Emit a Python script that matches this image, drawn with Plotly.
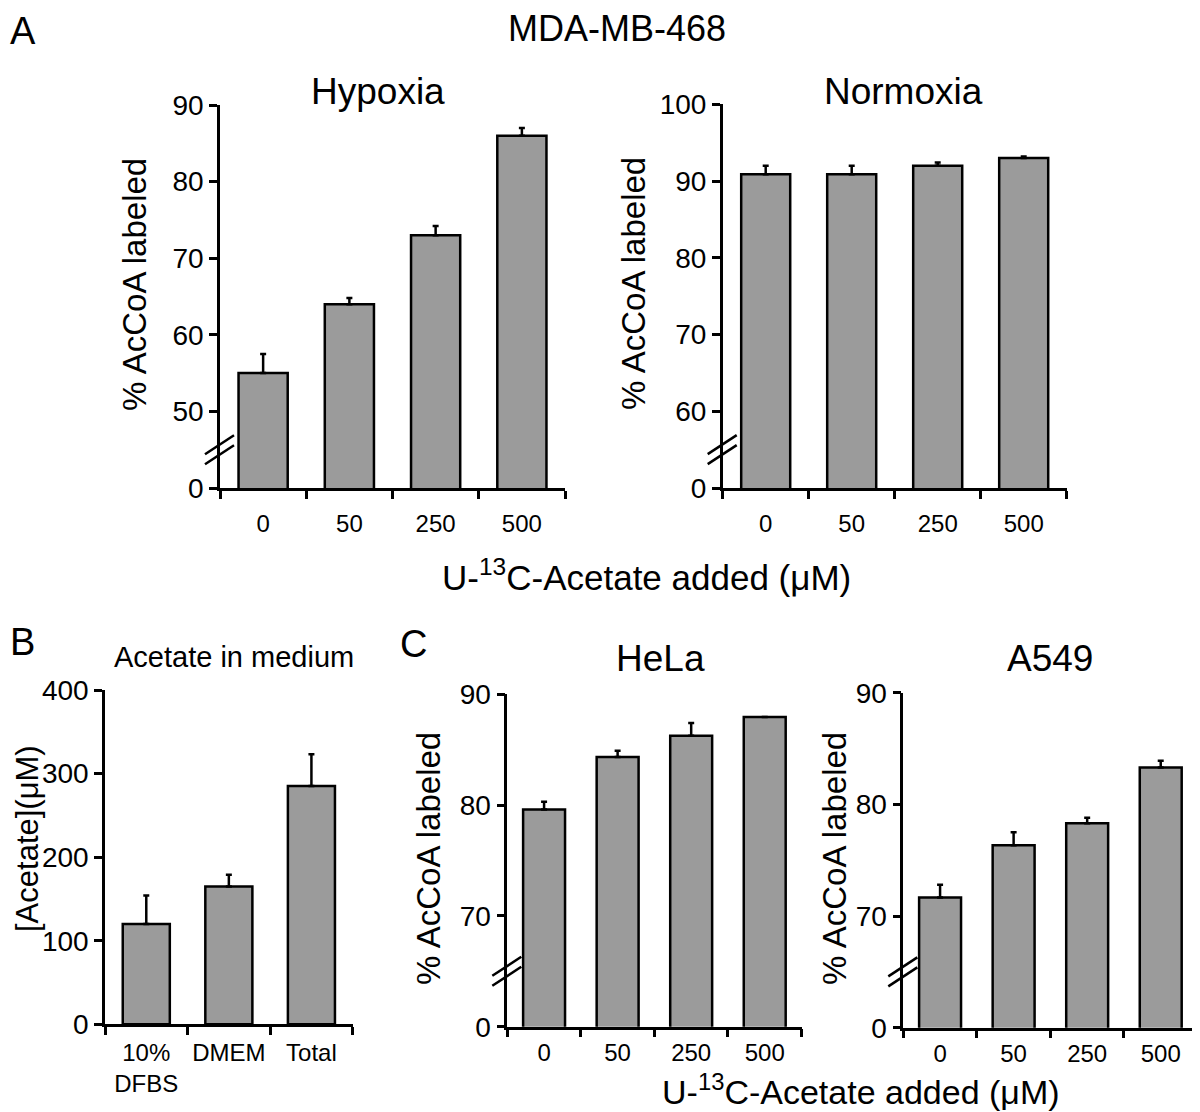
import plotly.graph_objects as go

# ---------------- data ----------------
doses = ["0", "50", "250", "500"]
hypoxia_vals = [55.0, 64.0, 73.0, 86.0]
hypoxia_err = [2.5, 0.8, 1.2, 1.0]
normoxia_vals = [90.9, 90.9, 92.0, 93.0]
normoxia_err = [1.1, 1.1, 0.4, 0.2]
medium_cats = ["10%<br>DFBS", "DMEM", "Total"]
medium_vals = [120.0, 165.0, 285.0]
medium_err = [34.0, 14.0, 38.0]
hela_vals = [79.6, 84.35, 86.25, 87.95]
hela_err = [0.7, 0.55, 1.15, 0.0]
a549_vals = [71.65, 76.35, 78.3, 83.3]
a549_err = [1.15, 1.15, 0.5, 0.6]

hyp_ticks = [40, 50, 60, 70, 80, 90]
hyp_ticktext = ["0", "50", "60", "70", "80", "90"]
nor_ticks = [50, 60, 70, 80, 90, 100]
nor_ticktext = ["0", "60", "70", "80", "90", "100"]
med_ticks = [0, 100, 200, 300, 400]
med_ticktext = ["0", "100", "200", "300", "400"]
c_ticks = [60, 70, 80, 90]
c_ticktext = ["0", "70", "80", "90"]

W, H = 1200, 1112
OFF = 8  # page body margin in the browser
FONT = "Liberation Sans, Arial, Helvetica, sans-serif"
BAR = "#9b9b9b"


def px(x):
    return (x - OFF) / W


def py(y):
    return 1 - (y - OFF) / H


# panel layout in page pixels: (left, right, bottom, top)
panels = [
    dict(cats=doses, vals=hypoxia_vals, err=hypoxia_err, ticks=hyp_ticks, ttext=hyp_ticktext,
         rng=[40, 90], box=(220, 565, 488, 105), broken=True, stand=12),
    dict(cats=doses, vals=normoxia_vals, err=normoxia_err, ticks=nor_ticks, ttext=nor_ticktext,
         rng=[50, 100], box=(722.7, 1066.7, 488, 104.3), broken=True, stand=12),
    dict(cats=medium_cats, vals=medium_vals, err=medium_err, ticks=med_ticks, ttext=med_ticktext,
         rng=[0, 400], box=(105, 352.7, 1024.3, 690), broken=False, stand=5),
    dict(cats=doses, vals=hela_vals, err=hela_err, ticks=c_ticks, ttext=c_ticktext,
         rng=[60, 90], box=(507.3, 801.5, 1026.7, 694.3), broken=True, stand=3),
    dict(cats=doses, vals=a549_vals, err=a549_err, ticks=c_ticks, ttext=c_ticktext,
         rng=[60, 90], box=(903.3, 1197.5, 1027.7, 692.7), broken=True, stand=3),
]

fig = go.Figure()
shapes = []
layout = {}
for i, p in enumerate(panels, start=1):
    xa = "x" if i == 1 else f"x{i}"
    ya = "y" if i == 1 else f"y{i}"
    fig.add_trace(go.Bar(
        x=p["cats"], y=p["vals"], xaxis=xa, yaxis=ya,
        marker=dict(color=BAR, line=dict(color="black", width=2.5)),
        error_y=dict(type="data", symmetric=False, array=p["err"],
                     arrayminus=[0] * len(p["err"]), color="black",
                     thickness=2.5, width=3),
        showlegend=False, hoverinfo="x+y",
    ))
    l, r, b, t = p["box"]
    n = len(p["cats"])
    xkey = "xaxis" if i == 1 else f"xaxis{i}"
    ykey = "yaxis" if i == 1 else f"yaxis{i}"
    layout[xkey] = dict(
        domain=[px(l), px(r)], anchor=ya, type="category", range=[-0.5, n - 0.5],
        tickson="boundaries", ticks="outside", ticklen=8, tickwidth=2.5, tickcolor="black",
        showline=True, linewidth=2.5, linecolor="black", showgrid=False, zeroline=False,
        tickfont=dict(size=24, color="black", family=FONT), ticklabelstandoff=p["stand"],
        tickangle=0, automargin=False, fixedrange=True,
    )
    layout[ykey] = dict(
        domain=[py(b), py(t)], anchor=xa, range=p["rng"], tickmode="array",
        tickvals=p["ticks"], ticktext=p["ttext"], ticks="outside", ticklen=8,
        tickwidth=2.5, tickcolor="black", showline=True, linewidth=2.5, linecolor="black",
        showgrid=False, zeroline=False, tickfont=dict(size=28, color="black", family=FONT),
        automargin=False, fixedrange=True,
    )
    if p["broken"]:
        # break marks centred between the axis bottom and the first labelled tick
        span = b - t
        first = b - span * (p["ticks"][1] - p["rng"][0]) / (p["rng"][1] - p["rng"][0])
        cy = (b + first) / 2
        for off in (-5, 5):
            shapes.append(dict(type="line", xref="paper", yref="paper",
                               x0=px(l - 15), y0=py(cy + off + 9.5),
                               x1=px(l + 14), y1=py(cy + off - 9.5),
                               line=dict(color="black", width=2.5)))

annotations = []


def ann(text, x, y, size, angle=0, xanchor="center"):
    annotations.append(dict(text=text, x=px(x), y=py(y), xref="paper", yref="paper",
                            showarrow=False, xanchor=xanchor, yanchor="middle",
                            textangle=angle, font=dict(size=size, color="black", family=FONT)))


ann("A", OFF, 31, 38, xanchor="left")
ann("MDA-MB-468", 617, 29, 36)
ann("Hypoxia", 378, 92, 37)
ann("Normoxia", 903, 92, 37)
ann("% AcCoA labeled", 134, 285, 33, -90)
ann("% AcCoA labeled", 633, 284, 33, -90)
ann("U-<sup>13</sup>C-Acetate added (μM)", 646, 575, 35)
ann("B", OFF, 642, 38, xanchor="left")
ann("C", 413, 644, 38)
ann("Acetate in medium", 234, 657, 29)
ann("[Acetate](μM)", 27, 839, 31, -90)
ann("HeLa", 660, 658, 37)
ann("A549", 1050, 658, 37)
ann("% AcCoA labeled", 428, 859, 33, -90)
ann("% AcCoA labeled", 834, 859, 33, -90)
ann("U-<sup>13</sup>C-Acetate added (μM)", 861, 1089, 34)

fig.update_layout(
    width=W, height=H, margin=dict(l=0, r=0, t=0, b=0, pad=0, autoexpand=False),
    paper_bgcolor="white", plot_bgcolor="white",
    bargap=0.43, showlegend=False,
    font=dict(family=FONT, color="black"),
    shapes=shapes, annotations=annotations,
    **layout,
)

fig.write_html("out.html")
